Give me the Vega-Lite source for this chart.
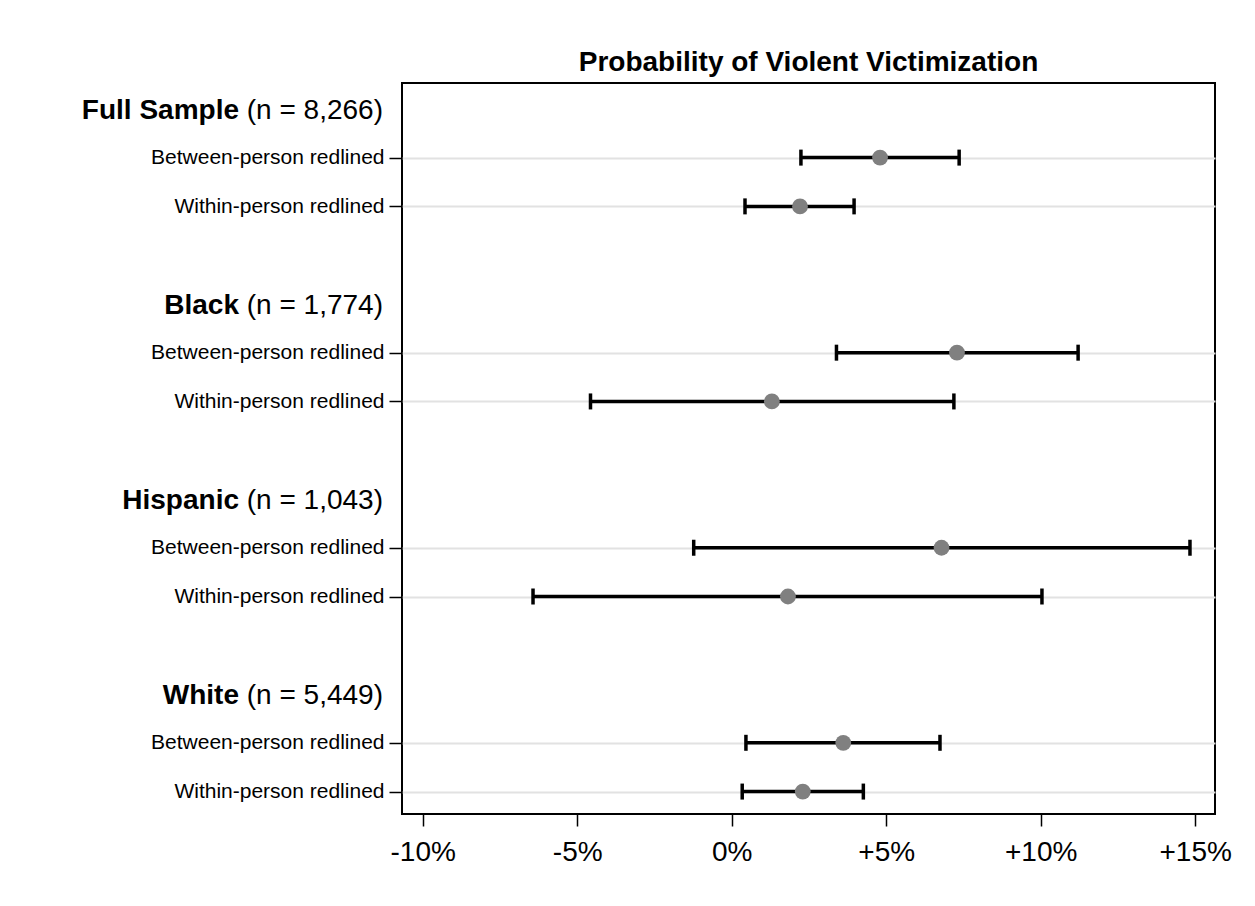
{
  "$schema": "https://vega.github.io/schema/vega-lite/v6.json",
  "width": 813,
  "height": 731,
  "autosize": {"type": "none"},
  "padding": {"left": 402, "top": 83, "right": 40, "bottom": 92},
  "background": "white",
  "title": {
    "text": "Probability of Violent Victimization",
    "fontSize": 28,
    "font": "Liberation Sans, Arial, sans-serif",
    "fontWeight": "bold",
    "color": "black",
    "anchor": "middle",
    "offset": 6
  },
  "datasets": {
    "est": [
      {"group": "Full Sample", "row": "Between-person redlined", "slot": 1, "est": 4.80, "lo": 2.24, "hi": 7.36},
      {"group": "Full Sample", "row": "Within-person redlined", "slot": 2, "est": 2.21, "lo": 0.43, "hi": 3.96},
      {"group": "Black", "row": "Between-person redlined", "slot": 5, "est": 7.29, "lo": 3.39, "hi": 11.21},
      {"group": "Black", "row": "Within-person redlined", "slot": 6, "est": 1.30, "lo": -4.57, "hi": 7.19},
      {"group": "Hispanic", "row": "Between-person redlined", "slot": 9, "est": 6.79, "lo": -1.23, "hi": 14.83},
      {"group": "Hispanic", "row": "Within-person redlined", "slot": 10, "est": 1.82, "lo": -6.43, "hi": 10.04},
      {"group": "White", "row": "Between-person redlined", "slot": 13, "est": 3.61, "lo": 0.46, "hi": 6.74},
      {"group": "White", "row": "Within-person redlined", "slot": 14, "est": 2.30, "lo": 0.34, "hi": 4.26}
    ],
    "headers": [
      {"slot": 0.05, "name": "Full Sample", "n": "(n = 8,266)"},
      {"slot": 4.05, "name": "Black", "n": "(n = 1,774)"},
      {"slot": 8.05, "name": "Hispanic", "n": "(n = 1,043)"},
      {"slot": 12.05, "name": "White", "n": "(n = 5,449)"}
    ]
  },
  "layer": [
    {
      "data": {"name": "est"},
      "mark": {"type": "rule", "color": "black", "strokeWidth": 3.5},
      "encoding": {
        "x": {
          "field": "lo",
          "type": "quantitative",
          "scale": {"domain": [-10.67, 15.64], "nice": false, "zero": false},
          "axis": {
            "values": [-10, -5, 0, 5, 10, 15],
            "labelExpr": "datum.value > 0 ? '+' + datum.value + '%' : datum.value + '%'",
            "title": null,
            "grid": false,
            "domain": false,
            "labelFontSize": 28,
            "labelFont": "Liberation Sans, Arial, sans-serif",
            "labelColor": "black",
            "tickColor": "black",
            "tickSize": 12,
            "tickWidth": 1.5,
            "labelPadding": 12
          }
        },
        "x2": {"field": "hi"},
        "y": {
          "field": "slot",
          "type": "quantitative",
          "scale": {"domain": [-0.53, 14.46], "reverse": true, "nice": false, "zero": false},
          "axis": {
            "values": [1, 2, 5, 6, 9, 10, 13, 14],
            "labelExpr": "datum.value % 4 == 1 ? 'Between-person redlined' : 'Within-person redlined'",
            "title": null,
            "grid": true,
            "gridColor": "#e2e2e2",
            "gridWidth": 2,
            "domain": false,
            "labelFontSize": 21,
            "labelFont": "Liberation Sans, Arial, sans-serif",
            "labelColor": "black",
            "labelLimit": 400,
            "tickColor": "black",
            "tickSize": 13,
            "tickWidth": 1.5,
            "labelPadding": 5
          }
        }
      }
    },
    {
      "data": {"name": "est"},
      "transform": [{"fold": ["lo", "hi"], "as": ["end", "xv"]}],
      "mark": {"type": "tick", "orient": "vertical", "color": "black", "size": 16, "thickness": 3.5, "opacity": 1},
      "encoding": {
        "x": {"field": "xv", "type": "quantitative"},
        "y": {"field": "slot", "type": "quantitative"}
      }
    },
    {
      "mark": {"type": "rule", "color": "#707070", "strokeWidth": 2, "strokeDash": [12, 8]},
      "encoding": {"x": {"datum": 0, "type": "quantitative"}}
    },
    {
      "data": {"name": "est"},
      "mark": {"type": "circle", "color": "#808080", "opacity": 1, "size": 250},
      "encoding": {
        "x": {"field": "est", "type": "quantitative"},
        "y": {"field": "slot", "type": "quantitative"}
      }
    },
    {
      "data": {"name": "headers"},
      "mark": {
        "type": "text",
        "font": "Liberation Sans, Arial, sans-serif",
        "fontSize": 28,
        "fontWeight": "bold",
        "align": "right",
        "baseline": "middle",
        "dx": -163,
        "color": "black"
      },
      "encoding": {
        "x": {"datum": -10.67, "type": "quantitative"},
        "y": {"field": "slot", "type": "quantitative"},
        "text": {"field": "name"}
      }
    },
    {
      "data": {"name": "headers"},
      "mark": {
        "type": "text",
        "font": "Liberation Sans, Arial, sans-serif",
        "fontSize": 28,
        "fontWeight": "normal",
        "align": "right",
        "baseline": "middle",
        "dx": -19,
        "color": "black"
      },
      "encoding": {
        "x": {"datum": -10.67, "type": "quantitative"},
        "y": {"field": "slot", "type": "quantitative"},
        "text": {"field": "n"}
      }
    }
  ],
  "config": {
    "view": {"stroke": "black", "strokeWidth": 2}
  }
}
